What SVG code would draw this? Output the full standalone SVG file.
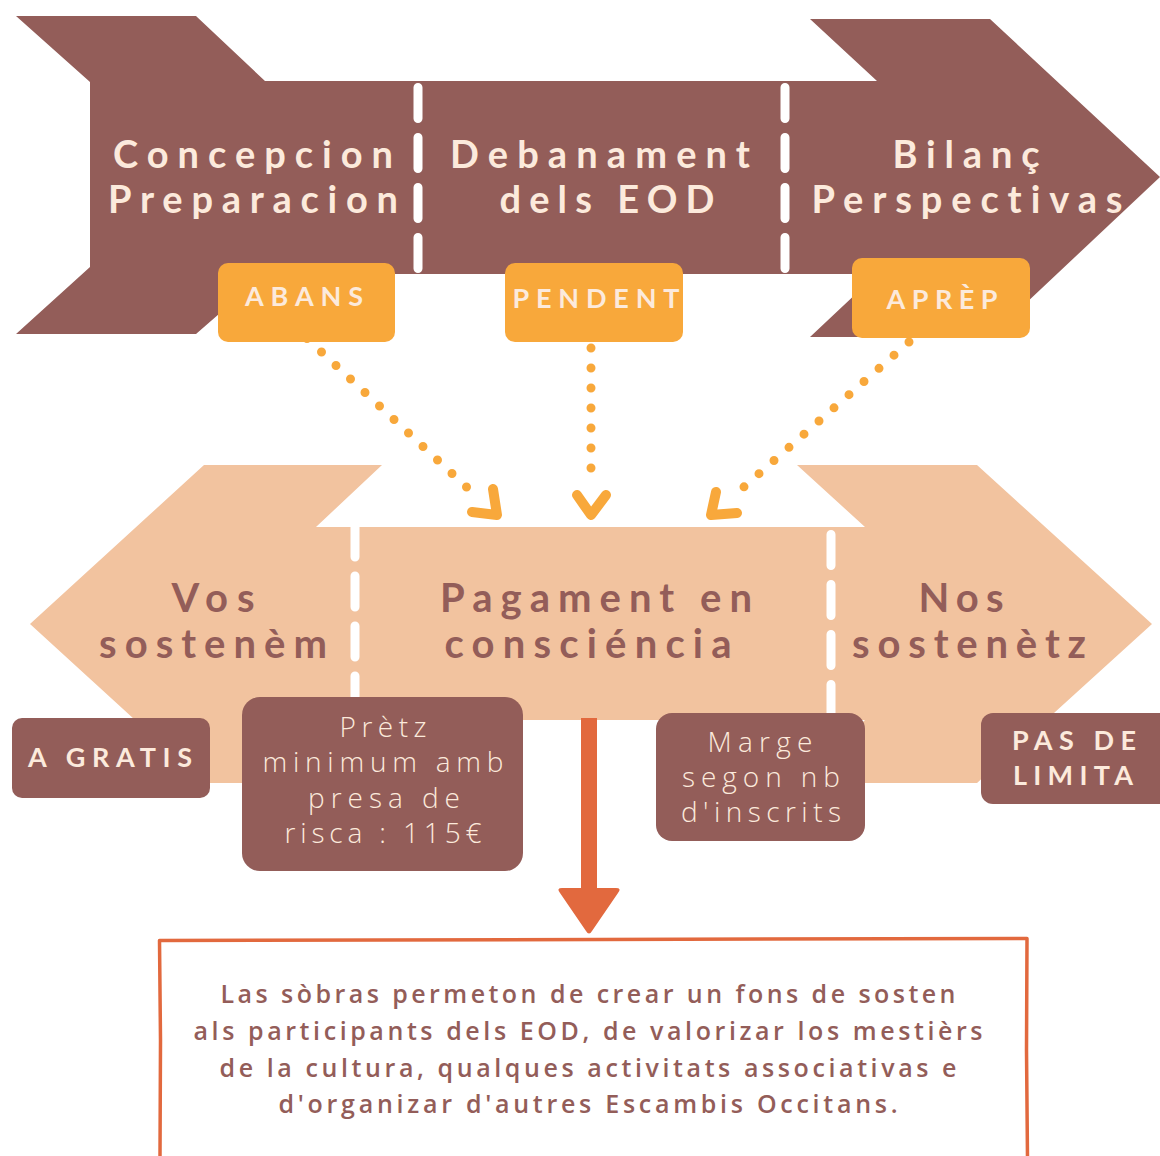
<svg xmlns="http://www.w3.org/2000/svg" width="1160" height="1156" viewBox="0 0 1160 1156">
<style>
text{font-variant-ligatures:none}
.brown{fill:#935D59}
.peach{fill:#F2C39F}
.orange{fill:#F8A83B}
.dash{stroke:#FFFFFF;stroke-width:9;stroke-linecap:round;stroke-dasharray:31 19;fill:none}
.dots{stroke:#F8A83B;stroke-width:9;stroke-linecap:round;stroke-dasharray:0 1;fill:none}
.chev{stroke:#F8A83B;stroke-width:10;stroke-linecap:round;stroke-linejoin:round;fill:none}
.big{font-family:Lato,"Liberation Sans",sans-serif;font-weight:700;text-anchor:middle}
.tcream{fill:#FCEADC}
.tbrown{fill:#935D59}
.lbl{font-family:Lato,"Liberation Sans",sans-serif;font-weight:700;font-size:27px;text-anchor:middle;fill:#FCEADC}
.thin{font-family:"Open Sans","Liberation Sans",sans-serif;font-weight:300;font-size:28px;text-anchor:middle;fill:#FCEADC}
.body{font-family:"Open Sans","Liberation Sans",sans-serif;font-weight:600;font-size:25px;text-anchor:middle;fill:#935D59}
</style>

<g id="top-arrow">
<path class="brown" d="M16,16 L196,16 L265,81 L877,81 L810,19 L990,19 L1160,177 L990,337 L810,337 L877,274 L265,274 L196,334 L16,334 L90,267 L90,82 Z"/>
<line class="dash" x1="418" y1="87.5" x2="418" y2="268.5"/>
<line class="dash" x1="785" y1="87.5" x2="785" y2="268.5"/>
</g>

<g id="stage-concepcion">
<text class="big tcream" font-size="38" x="253" y="168" textLength="280" lengthAdjust="spacing">Concepcion</text>
<text class="big tcream" font-size="38" x="253" y="213" textLength="290" lengthAdjust="spacing">Preparacion</text>
</g>
<g id="stage-debanament">
<text class="big tcream" font-size="38" x="600" y="168" textLength="300" lengthAdjust="spacing">Debanament</text>
<text class="big tcream" font-size="38" x="607" y="213" textLength="215" lengthAdjust="spacing">dels EOD</text>
</g>
<g id="stage-bilanc">
<text class="big tcream" font-size="38" x="966" y="168" textLength="147" lengthAdjust="spacing">Bilanç</text>
<text class="big tcream" font-size="38" x="967" y="213" textLength="311" lengthAdjust="spacing">Perspectivas</text>
</g>

<g id="bottom-arrow">
<path class="peach" d="M204,465 L382,465 L316,527 L865,527 L797,465 L977,465 L1152,624 L977,783 L797,783 L865,720 L316,720 L382,783 L204,783 L30,624 Z"/>
<line class="dash" x1="355" y1="526" x2="355" y2="705"/>
<line class="dash" x1="831" y1="534.5" x2="831" y2="715.5"/>
</g>

<g id="connectors">
<path class="dots" pathLength="12" d="M307,338.5 L481,500.5"/>
<polyline class="chev" points="472,512 497,515 493,489"/>
<path class="dots" pathLength="7" d="M591,348 L591,488"/>
<polyline class="chev" points="577,495 591,515 606,495"/>
<path class="dots" pathLength="12" d="M909,342 L729,500"/>
<polyline class="chev" points="716,492 711,515 737,513"/>
<g id="down-arrow">
<rect x="581" y="718" width="16" height="175" fill="#E2693E"/>
<path d="M562,888 L616,888 Q622,888 618,893 L592,931 Q589,936 586,931 L560,893 Q556,888 562,888 Z" fill="#E2693E"/>
</g>
</g>

<g id="label-abans">
<rect class="orange" x="218" y="263" width="177" height="79" rx="10"/>
<text class="lbl" x="304" y="306" textLength="118" lengthAdjust="spacing">ABANS</text>
</g>
<g id="label-pendent">
<rect class="orange" x="505" y="263" width="178" height="79" rx="10"/>
<text class="lbl" x="596" y="308" textLength="167" lengthAdjust="spacing">PENDENT</text>
</g>
<g id="label-aprep">
<rect class="orange" x="852" y="258" width="178" height="80" rx="10"/>
<text class="lbl" x="942" y="309" textLength="111" lengthAdjust="spacing">APRÈP</text>
</g>

<g id="option-vos">
<text class="big tbrown" font-size="40" x="213" y="612" textLength="83" lengthAdjust="spacing">Vos</text>
<text class="big tbrown" font-size="40" x="213" y="658" textLength="228" lengthAdjust="spacing">sostenèm</text>
</g>
<g id="option-pagament">
<text class="big tbrown" font-size="40" x="596" y="612" textLength="312" lengthAdjust="spacing">Pagament en</text>
<text class="big tbrown" font-size="40" x="588" y="658" textLength="287" lengthAdjust="spacing">consciéncia</text>
</g>
<g id="option-nos">
<text class="big tbrown" font-size="40" x="961" y="612" textLength="85" lengthAdjust="spacing">Nos</text>
<text class="big tbrown" font-size="40" x="969" y="658" textLength="234" lengthAdjust="spacing">sostenètz</text>
</g>

<g id="box-gratis">
<rect class="brown" x="12" y="718" width="198" height="80" rx="10"/>
<text class="lbl" x="110" y="767" textLength="164" lengthAdjust="spacing">A GRATIS</text>
</g>
<g id="box-pretz">
<rect class="brown" x="242" y="697" width="281" height="174" rx="18"/>
<text class="thin" x="383" y="737" textLength="87" lengthAdjust="spacing">Prètz</text>
<text class="thin" x="383" y="772" textLength="241" lengthAdjust="spacing">minimum amb</text>
<text class="thin" x="384" y="808" textLength="152" lengthAdjust="spacing">presa de</text>
<text class="thin" x="383" y="843" textLength="197" lengthAdjust="spacing">risca : 115€</text>
</g>
<g id="box-marge">
<rect class="brown" x="656" y="713" width="209" height="128" rx="16"/>
<text class="thin" x="760" y="752" textLength="105" lengthAdjust="spacing">Marge</text>
<text class="thin" x="761" y="787" textLength="158" lengthAdjust="spacing">segon nb</text>
<text class="thin" x="761" y="822" textLength="160" lengthAdjust="spacing">d'inscrits</text>
</g>
<g id="box-limita">
<rect class="brown" x="981" y="713" width="195" height="91" rx="12"/>
<text class="lbl" x="1074" y="750" textLength="124" lengthAdjust="spacing">PAS DE</text>
<text class="lbl" x="1073" y="785" textLength="120" lengthAdjust="spacing">LIMITA</text>
</g>

<g id="result-box">
<path d="M160,1158 L160.5,1040 L159.5,940.5 L600,939.5 L1027,938.5 L1026.5,1050 L1027.5,1158" fill="none" stroke="#E2693E" stroke-width="3.5" stroke-linejoin="round"/>
<text class="body" x="588" y="1003" textLength="735" lengthAdjust="spacing">Las sòbras permeton de crear un fons de sosten</text>
<text class="body" x="588" y="1040" textLength="789" lengthAdjust="spacing">als participants dels EOD, de valorizar los mestièrs</text>
<text class="body" x="588" y="1077" textLength="737" lengthAdjust="spacing">de la cultura, qualques activitats associativas e</text>
<text class="body" x="588" y="1113" textLength="619" lengthAdjust="spacing">d'organizar d'autres Escambis Occitans.</text>
</g>
</svg>
